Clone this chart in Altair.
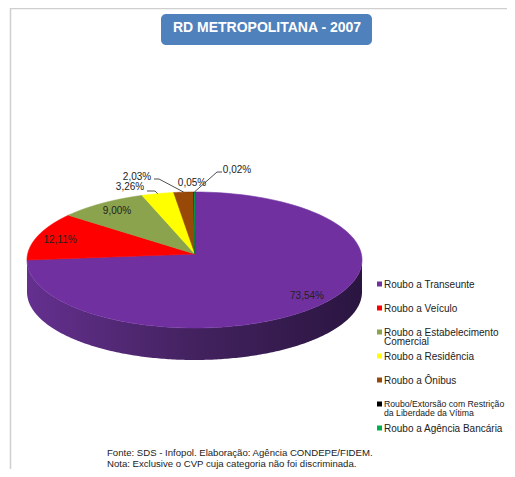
import math
import altair as alt
import pandas as pd

# ---- values ----
categories = ["Roubo a Transeunte", "Roubo a Veículo", "Roubo a Estabelecimento\nComercial",
              "Roubo a Residência", "Roubo a Ônibus",
              "Roubo/Extorsão com Restrição\nda Liberdade da Vítima", "Roubo a Agência Bancária"]
shares = [73.54, 12.11, 9.00, 3.26, 2.03, 0.05, 0.02]
share_labels = ["73,54%", "12,11%", "9,00%", "3,26%", "2,03%", "0,05%", "0,02%"]
colors = ["#7030A0", "#FF0000", "#8BA34D", "#FFFF00", "#984807", "#000000", "#00B050"]
title_text = "RD METROPOLITANA - 2007"
footer_lines = ["Fonte: SDS - Infopol.  Elaboração: Agência CONDEPE/FIDEM.",
                "Nota: Exclusive o CVP cuja categoria não foi discriminada."]

# ---- layout (reference pixels) ----
CX, CY, RX, RY, DEPTH = 194.5, 260.0, 167.5, 68.0, 32.0
APEX = (195.0, 254.0)
LABEL_XY = [(307, 296), (60, 240), (117, 211), (130, 187), (137, 177), (192, 183), (237, 170)]
ELBOWS = {3: [(155, 191), (147, 191)], 4: [(159, 179), (154, 179)], 6: [(217, 172), (222, 172)]}

total = sum(shares)
left_total = sum(shares[1:])


def rim_angle(cum):
    """Perspective: the big slice fills the right 3/4 of the ellipse."""
    if cum <= shares[0]:
        return 270.0 * cum / shares[0]
    return 270.0 + 90.0 * (cum - shares[0]) / left_total


def rim(t):
    a = math.radians(t)
    return CX + RX * math.sin(a), CY - RY * math.cos(a)


# slice polygons
rows, mids = [], []
cum = 0.0
for i, (c, s) in enumerate(zip(categories, shares)):
    t0, t1 = rim_angle(cum), rim_angle(cum + s)
    mids.append((t0 + t1) / 2)
    pts = [APEX] + [rim(t0 + (t1 - t0) * k / 120) for k in range(121)]
    for k, (x, y) in enumerate(pts):
        rows.append({"cat": c, "x": x, "y": y, "k": k})
    cum += s
slices = pd.DataFrame(rows)

# side wall
wall = pd.DataFrame(
    [{"x": rim(t)[0], "y": rim(t)[1], "y2": rim(t)[1] + DEPTH} for t in [90 + 180 * k / 240 for k in range(241)]]
).sort_values("x")

xs = alt.Scale(domain=[8, 507], nice=False, zero=False)
ys = alt.Scale(domain=[469, 8], nice=False, zero=False)
X = alt.X("x:Q", scale=xs, axis=None)
Y = alt.Y("y:Q", scale=ys, axis=None)
cscale = alt.Scale(domain=categories, range=colors)

wall_layer = alt.Chart(wall).mark_area(
    color=alt.LinearGradient(gradient="linear", x1=0, x2=1, y1=0, y2=0, stops=[
        alt.GradientStop(color="#64308F", offset=0),
        alt.GradientStop(color="#43225F", offset=0.5),
        alt.GradientStop(color="#2A1540", offset=1),
    ])
).encode(x=X, y=Y, y2="y2:Q")

slice_layer = alt.Chart(slices).mark_line(strokeWidth=0.6, interpolate="linear-closed").encode(
    x=X, y=Y,
    fill=alt.Fill("cat:N", scale=cscale, legend=None),
    stroke=alt.Stroke("cat:N", scale=cscale, legend=None),
    detail="cat:N",
    order="k:Q",
)

# data labels
labels = pd.DataFrame({"text": share_labels, "x": [p[0] for p in LABEL_XY], "y": [p[1] for p in LABEL_XY]})
label_layer = alt.Chart(labels).mark_text(font="Liberation Sans", fontSize=10, color="#222222").encode(
    x=X, y=Y, text="text:N")

# leader lines
lead = []
for i, elbow in ELBOWS.items():
    for k, (x, y) in enumerate([rim(mids[i])] + elbow):
        lead.append({"id": i, "k": k, "x": x, "y": y})
leader_layer = alt.Chart(pd.DataFrame(lead)).mark_line(color="#222222", strokeWidth=0.8).encode(
    x=X, y=Y, detail="id:N", order="k:Q")

# legend
legend = pd.DataFrame({"cat": categories, "x": [379.5] * 7, "tx": [384] * 7,
                       "y": [284 + 24 * i for i in range(7)],
                       "ty": [279.5 + 24 * i for i in range(7)]})
swatch_layer = alt.Chart(legend).mark_square(size=25, opacity=1, strokeWidth=0).encode(
    x=X, y=Y, fill=alt.Fill("cat:N", scale=cscale, legend=None))
LONG_ROW = 5
legend_text = alt.Chart(legend.drop(index=LONG_ROW)).mark_text(
    font="Liberation Sans", fontSize=10, color="#222222", align="left", baseline="top",
    lineBreak="\n", lineHeight=9.5).encode(
    x=alt.X("tx:Q", scale=xs, axis=None), y=alt.Y("ty:Q", scale=ys, axis=None), text="cat:N")
legend_long = alt.Chart(legend.loc[[LONG_ROW]]).mark_text(
    font="Liberation Sans", fontSize=8.7, color="#222222", align="left", baseline="top",
    lineBreak="\n", lineHeight=9.5).encode(
    x=alt.X("tx:Q", scale=xs, axis=None), y=alt.Y("ty:Q", scale=ys, axis=None), text="cat:N")

# title box and title
box = pd.DataFrame({"x": [161], "x2": [372], "y": [14], "y2": [45]})
box_layer = alt.Chart(box).mark_rect(color="#4F81BD", cornerRadius=5).encode(x=X, x2="x2:Q", y=Y, y2="y2:Q")
title_df = pd.DataFrame({"text": [title_text], "x": [267], "y": [28]})
title_layer = alt.Chart(title_df).mark_text(
    font="Liberation Sans", fontWeight="bold", fontSize=14, color="#FFFFFF").encode(x=X, y=Y, text="text:N")

# footer
foot = pd.DataFrame({"text": footer_lines, "x": [107, 107], "y": [453, 463.5]})
foot_layer = alt.Chart(foot).mark_text(
    font="Liberation Sans", fontSize=9.6, color="#222222", align="left").encode(x=X, y=Y, text="text:N")

# frame
frame = pd.DataFrame({"x": [10.5], "y": [8], "y2": [469]})
frame_layer = alt.Chart(frame).mark_rule(color="#CFCFCF", strokeWidth=1.5).encode(x=X, y=Y, y2="y2:Q")
top = pd.DataFrame({"x": [10.5], "x2": [507], "y": [8.5]})
top_layer = alt.Chart(top).mark_rule(color="#CFCFCF", strokeWidth=1.5).encode(x=X, x2="x2:Q", y=Y)

chart = alt.layer(
    frame_layer, top_layer, wall_layer, slice_layer, leader_layer, label_layer,
    swatch_layer, legend_text, legend_long, box_layer, title_layer, foot_layer,
).properties(width=499, height=461, padding=0, autosize=alt.AutoSizeParams(type="none")).configure_view(stroke=None)

chart.save("out.html", embed_options={"renderer": "svg", "actions": False})
